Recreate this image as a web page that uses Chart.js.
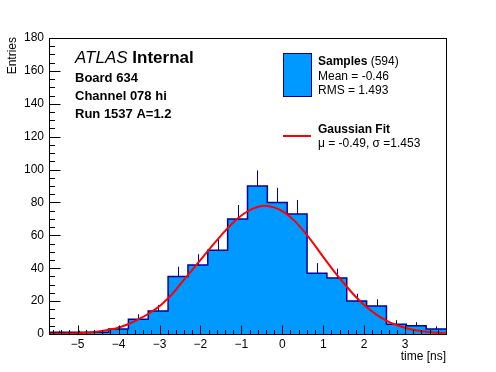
<!DOCTYPE html>
<html>
<head>
<meta charset="utf-8">
<script src="https://cdn.jsdelivr.net/npm/chart.js@4.4.0/dist/chart.umd.min.js"></script>
<style>
  html, body { margin: 0; padding: 0; background: #fff; }
</style>
</head>
<body>
<canvas id="timeChart" width="496" height="372"></canvas>
<script>
// histogram binning (20 bins)
var histMin = -5.7;
var histMax = 4.0;
var binCounts = [1, 1, 1, 3, 9, 14, 35, 42, 51, 70, 90, 80, 73, 37, 34, 20, 17, 6, 5, 3];
var binErrors = [1.0, 1.0, 1.0, 1.7, 3.0, 3.7, 5.9, 6.5, 7.1, 8.4, 9.5, 8.9, 8.5, 6.1, 5.8, 4.5, 4.1, 2.4, 2.2, 1.7];

// gaussian fit curve
var fitX = [-5.7, -5.2, -4.7, -4.2, -3.95, -3.7, -3.45, -3.2, -2.95, -2.7, -2.45, -2.2, -1.95, -1.7, -1.45,
            -1.2, -0.95, -0.7, -0.45, -0.2, 0.05, 0.3, 0.55, 0.8, 1.05, 1.3, 1.55, 1.8, 2.05, 2.3, 2.55,
            2.8, 3.05, 3.3, 3.55, 3.8, 4.0];
var fitY = [0.1, 0.3, 0.9, 2.7, 4.3, 6.7, 9.8, 13.4, 18.0, 24.0, 31.5, 39.0, 46.5, 54.0, 61.2,
            67.8, 73.0, 76.4, 78.0, 77.0, 74.0, 68.8, 61.8, 53.8, 45.2, 37.0, 29.5, 22.5, 16.5, 11.8, 8.0,
            5.3, 3.4, 2.1, 1.2, 0.7, 0.4];

var xTicks = [-5, -4, -3, -2, -1, 0, 1, 2, 3];
var yTicks = [0, 20, 40, 60, 80, 100, 120, 140, 160, 180];

var infoLines = ['Board 634', 'Channel 078 hi', 'Run 1537 A=1.2'];
var sampleLines = ['Mean = -0.46', 'RMS = 1.493'];
var fitLine = '\u03bc = -0.49, \u03c3 =1.453';

var FONT = '"Liberation Sans", Arial, Helvetica, sans-serif';
var histFill = '#0099ff';
var histLine = '#000099';

var binWidth = (histMax - histMin) / binCounts.length;
var histPoints = binCounts.map(function(c, i) {
  return { x: histMin + i * binWidth, y: c };
});
histPoints.push({ x: histMax, y: binCounts[binCounts.length - 1] });

var fitPoints = fitX.map(function(x, i) { return { x: x, y: fitY[i] }; });

function fmt(v) {
  return v < 0 ? '\u2212' + Math.abs(v) : '' + v;
}

var rootStyle = {
  id: 'rootStyle',
  afterDatasetDraw: function(chart, args) {
    if (args.index !== 0) return;
    // error bars (only upper half shows above the filled bins)
    var ctx = chart.ctx, xs = chart.scales.x, ys = chart.scales.y;
    ctx.save();
    ctx.strokeStyle = histLine;
    ctx.lineWidth = 1;
    binCounts.forEach(function(c, i) {
      var xc = Math.round(xs.getPixelForValue(histMin + (i + 0.5) * binWidth)) + 0.5;
      ctx.beginPath();
      ctx.moveTo(xc, ys.getPixelForValue(c));
      ctx.lineTo(xc, ys.getPixelForValue(c + binErrors[i]));
      ctx.stroke();
    });
    ctx.restore();
  },
  afterDraw: function(chart) {
    var ctx = chart.ctx, xs = chart.scales.x, ys = chart.scales.y;
    var a = chart.chartArea;
    var L = Math.round(a.left) + 0.5, R = Math.round(a.right) + 0.5;
    var T = Math.round(a.top) + 0.5, B = Math.round(a.bottom) + 0.5;
    ctx.save();
    ctx.strokeStyle = '#000';
    ctx.lineWidth = 1;
    ctx.strokeRect(L, T, R - L, B - T);

    // inward ticks
    ctx.beginPath();
    var v, px;
    for (v = -5.6; v <= histMax + 1e-6; v += 0.2) {
      px = Math.round(xs.getPixelForValue(v)) + 0.5;
      var major = Math.abs(v - Math.round(v)) < 1e-6;
      ctx.moveTo(px, B);
      ctx.lineTo(px, B - (major ? 9 : 4.5));
    }
    for (v = 0; v <= 180; v += 5) {
      px = Math.round(ys.getPixelForValue(v)) + 0.5;
      ctx.moveTo(L, px);
      ctx.lineTo(L + (v % 20 === 0 ? 11 : 5.5), px);
    }
    ctx.stroke();

    ctx.fillStyle = '#000';
    ctx.textBaseline = 'alphabetic';

    // axis titles
    ctx.font = '12px ' + FONT;
    ctx.textAlign = 'right';
    ctx.fillText('time [ns]', 446, 360);
    ctx.save();
    ctx.translate(16, 37);
    ctx.rotate(-Math.PI / 2);
    ctx.fillText('Entries', 0, 0);
    ctx.restore();

    // ATLAS label
    ctx.textAlign = 'left';
    ctx.font = 'italic 17px ' + FONT;
    ctx.fillText('ATLAS', 75, 63);
    var w = ctx.measureText('ATLAS ').width;
    ctx.font = 'bold 17px ' + FONT;
    ctx.fillText('Internal', 75 + w, 63);
    ctx.font = 'bold 13px ' + FONT;
    infoLines.forEach(function(t, i) {
      ctx.fillText(t, 75, 82 + i * 18);
    });

    // legend
    ctx.fillStyle = histFill;
    ctx.fillRect(283, 53, 28, 44);
    ctx.strokeStyle = histLine;
    ctx.strokeRect(283.5, 53.5, 28, 43);
    ctx.fillStyle = '#000';
    ctx.font = 'bold 12px ' + FONT;
    ctx.fillText('Samples', 318, 65);
    var sw = ctx.measureText('Samples').width;
    ctx.font = '12px ' + FONT;
    ctx.fillText(' (594)', 318 + sw, 65);
    sampleLines.forEach(function(t, i) {
      ctx.fillText(t, 318, 80 + i * 14);
    });

    ctx.strokeStyle = '#ff0000';
    ctx.lineWidth = 2;
    ctx.beginPath();
    ctx.moveTo(283, 136);
    ctx.lineTo(311, 136);
    ctx.stroke();
    ctx.font = 'bold 12px ' + FONT;
    ctx.fillText('Gaussian Fit', 318, 133);
    ctx.font = '12px ' + FONT;
    ctx.fillText(fitLine, 318, 147);
    ctx.restore();
  }
};

var ctx = document.getElementById('timeChart');
var timeChart = new Chart(ctx, {
  type: 'line',
  data: {
    datasets: [{
      label: 'Samples',
      data: histPoints,
      stepped: true,
      fill: 'origin',
      backgroundColor: histFill,
      borderColor: histLine,
      borderWidth: 1.5,
      pointRadius: 0,
      order: 2
    },
    {
      label: 'Gaussian Fit',
      data: fitPoints,
      borderColor: '#ff0000',
      borderWidth: 2,
      fill: false,
      pointRadius: 0,
      cubicInterpolationMode: 'monotone',
      order: 1
    }]
  },
  options: {
    responsive: false,
    animation: false,
    devicePixelRatio: 1,
    layout: { padding: { top: 38, right: 50, left: 0, bottom: 0 } },
    plugins: {
      legend: { display: false },
      tooltip: { enabled: false }
    },
    scales: {
      x: {
        type: 'linear',
        min: histMin,
        max: histMax,
        afterBuildTicks: function(s) { s.ticks = xTicks.map(function(v) { return { value: v }; }); },
        afterFit: function(s) { s.height = 38; },
        grid: { display: false, drawTicks: false },
        border: { display: false },
        ticks: {
          padding: 3,
          color: '#000',
          maxRotation: 0,
          autoSkip: false,
          font: { family: FONT, size: 12 },
          callback: function(v) { return fmt(v); }
        }
      },
      y: {
        min: 0,
        max: 180,
        afterBuildTicks: function(s) { s.ticks = yTicks.map(function(v) { return { value: v }; }); },
        afterFit: function(s) { s.width = 49; },
        grid: { display: false, drawTicks: false },
        border: { display: false },
        ticks: {
          padding: 5,
          color: '#000',
          autoSkip: false,
          font: { family: FONT, size: 12 },
          callback: function(v) { return fmt(v); }
        }
      }
    }
  },
  plugins: [rootStyle]
});
</script>
</body>
</html>
